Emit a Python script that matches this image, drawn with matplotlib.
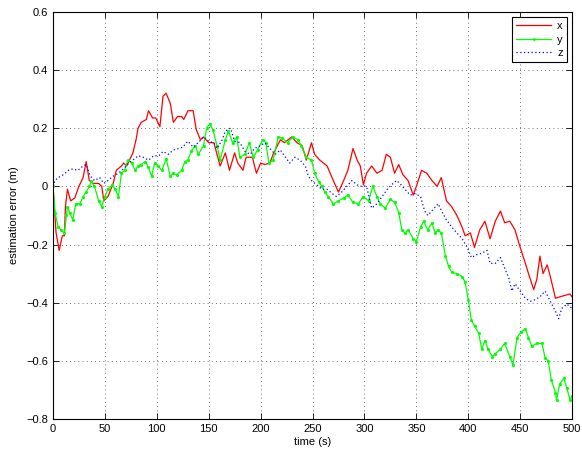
import matplotlib
matplotlib.use("Agg")
import matplotlib.pyplot as plt

# estimation error, per axis
t_x = [0, 3, 6, 9, 11, 12, 14, 17, 21, 25, 29, 32, 35, 39, 44, 47, 49, 53, 58, 61, 66, 68, 71, 75, 77, 80,
       82, 85, 90, 92, 96, 99, 103, 106, 109, 113, 116, 120, 124, 126, 130, 135, 138, 142, 145, 150, 155,
       158, 161, 166, 170, 175, 178, 183, 186, 192, 196, 200, 204, 209, 212, 219, 223, 230, 235, 240, 244,
       249, 252, 257, 264, 270, 275, 280, 284, 289, 293, 296, 299, 302, 307, 312, 317, 321, 325, 329, 333,
       337, 342, 347, 350, 355, 360, 365, 370, 374, 379, 384, 389, 394, 397, 402, 406, 411, 416, 421, 426,
       431, 435, 440, 445, 450, 455, 458, 463, 466, 469, 472, 476, 479, 484, 488, 493, 498, 500]
err_x = [0.0, -0.16, -0.22, -0.17, -0.17, -0.07, -0.01, -0.05, -0.04, 0.0, 0.03, 0.085, 0.02, 0.01, 0.01,
         0.0, -0.05, -0.035, 0.01, 0.055, 0.07, 0.08, 0.07, 0.1, 0.115, 0.16, 0.2, 0.22, 0.23, 0.26, 0.235,
         0.235, 0.205, 0.31, 0.32, 0.285, 0.22, 0.24, 0.24, 0.23, 0.26, 0.26, 0.195, 0.16, 0.17, 0.15, 0.15,
         0.11, 0.07, 0.115, 0.055, 0.115, 0.08, 0.055, 0.1, 0.1, 0.045, 0.08, 0.075, 0.08, 0.11, 0.16, 0.15,
         0.17, 0.15, 0.14, 0.09, 0.15, 0.11, 0.09, 0.07, 0.02, -0.02, 0.02, 0.055, 0.13, 0.09, 0.07, 0.005,
         0.045, 0.07, 0.045, 0.055, 0.11, 0.1, 0.045, 0.075, 0.04, 0.02, -0.03, 0.0, 0.055, 0.045, 0.02, 0.0,
         0.03, -0.05, -0.07, -0.1, -0.14, -0.17, -0.16, -0.21, -0.15, -0.12, -0.18, -0.12, -0.085, -0.125,
         -0.12, -0.15, -0.21, -0.265, -0.3, -0.355, -0.32, -0.24, -0.3, -0.27, -0.31, -0.385, -0.38, -0.375,
         -0.37, -0.38]

t_y = [0, 2, 5, 8, 11, 13, 14, 16, 19, 22, 26, 29, 32, 35, 37, 40, 44, 47, 50, 53, 57, 60, 63, 66, 69, 72,
       76, 79, 82, 85, 89, 92, 95, 98, 101, 105, 109, 113, 116, 119, 124, 127, 130, 133, 137, 140, 145, 148,
       151, 154, 158, 161, 166, 169, 173, 177, 180, 185, 189, 193, 197, 202, 205, 208, 212, 217, 221, 226,
       231, 236, 239, 244, 249, 252, 256, 259, 262, 265, 270, 275, 280, 284, 289, 294, 299, 304, 308, 312,
       315, 320, 325, 329, 333, 336, 339, 342, 347, 350, 354, 357, 361, 365, 368, 371, 374, 378, 381, 384,
       389, 394, 397, 400, 403, 406, 410, 413, 416, 419, 423, 426, 431, 435, 440, 443, 447, 451, 455, 458,
       461, 466, 471, 474, 477, 480, 484, 485, 488, 492, 495, 498, 500]
err_y = [0.0, -0.09, -0.14, -0.15, -0.16, -0.1, -0.07, -0.09, -0.115, -0.06, -0.06, -0.035, -0.02, 0.0,
         0.017, 0.0, -0.05, -0.07, -0.035, -0.01, 0.005, -0.01, -0.035, 0.045, 0.055, 0.09, 0.08, 0.055,
         0.07, 0.075, 0.085, 0.065, 0.035, 0.08, 0.07, 0.055, 0.095, 0.035, 0.045, 0.04, 0.055, 0.085, 0.09,
         0.12, 0.14, 0.11, 0.14, 0.2, 0.215, 0.195, 0.14, 0.09, 0.16, 0.19, 0.15, 0.17, 0.1, 0.11, 0.15, 0.1,
         0.125, 0.16, 0.15, 0.08, 0.09, 0.17, 0.165, 0.15, 0.17, 0.16, 0.14, 0.1, 0.09, 0.045, 0.015, 0.0,
         -0.02, -0.035, -0.06, -0.05, -0.04, -0.03, -0.055, -0.06, -0.035, -0.05, 0.0, -0.035, -0.06, -0.075,
         -0.045, -0.055, -0.09, -0.15, -0.16, -0.15, -0.18, -0.19, -0.14, -0.12, -0.15, -0.125, -0.16, -0.15,
         -0.16, -0.24, -0.275, -0.295, -0.3, -0.31, -0.33, -0.39, -0.46, -0.48, -0.505, -0.56, -0.53, -0.56,
         -0.585, -0.575, -0.56, -0.54, -0.585, -0.615, -0.52, -0.5, -0.49, -0.52, -0.55, -0.54, -0.54, -0.59,
         -0.6, -0.665, -0.71, -0.735, -0.68, -0.66, -0.695, -0.735, -0.72]

t_z = [0, 2, 5, 10, 15, 19, 24, 29, 32, 36, 40, 45, 49, 53, 58, 63, 68, 73, 77, 82, 87, 92, 97, 102, 106,
       111, 116, 121, 125, 130, 135, 140, 145, 150, 155, 158, 163, 166, 171, 175, 180, 185, 190, 194, 200,
       204, 209, 214, 219, 224, 228, 233, 238, 243, 246, 249, 254, 259, 264, 269, 273, 278, 283, 288, 293,
       297, 302, 307, 312, 317, 322, 326, 331, 334, 339, 344, 349, 354, 358, 361, 366, 371, 375, 379, 384,
       389, 394, 399, 403, 408, 413, 418, 421, 426, 431, 436, 439, 442, 445, 450, 455, 460, 464, 469, 474,
       479, 484, 487, 490, 495, 500]
err_z = [0.0, 0.02, 0.03, 0.04, 0.055, 0.06, 0.055, 0.07, 0.075, 0.035, 0.02, 0.03, 0.01, 0.02, 0.035,
         0.045, 0.06, 0.08, 0.09, 0.105, 0.1, 0.09, 0.105, 0.105, 0.12, 0.11, 0.125, 0.13, 0.135, 0.155,
         0.135, 0.15, 0.17, 0.155, 0.15, 0.13, 0.16, 0.19, 0.2, 0.155, 0.15, 0.12, 0.11, 0.13, 0.14, 0.15,
         0.13, 0.11, 0.125, 0.1, 0.08, 0.1, 0.09, 0.07, 0.035, 0.02, 0.005, -0.01, -0.01, -0.025, -0.035,
         -0.02, 0.0, 0.02, 0.005, 0.0, 0.0, -0.075, -0.06, -0.035, -0.01, 0.005, 0.02, 0.01, -0.01, -0.03,
         -0.025, -0.035, -0.085, -0.1, -0.08, -0.06, -0.09, -0.115, -0.14, -0.16, -0.18, -0.21, -0.245,
         -0.235, -0.23, -0.22, -0.265, -0.265, -0.245, -0.29, -0.315, -0.36, -0.335, -0.36, -0.385, -0.395,
         -0.39, -0.38, -0.36, -0.395, -0.43, -0.455, -0.42, -0.405, -0.42]

plt.rcParams['font.family'] = ['Liberation Sans', 'DejaVu Sans']
plt.rcParams['font.size'] = 8

fig = plt.figure(figsize=(5.82, 4.54), dpi=100)
ax = fig.add_axes([0.091, 0.077, 0.892, 0.897])

ax.plot(t_x, err_x, color='red', lw=0.9, label='x')
ax.plot(t_y, err_y, color=(0, 1, 0), lw=0.9, marker='.', markersize=2.5, label='y')
ax.plot(t_z, err_z, color='blue', lw=0.9, linestyle=(0, (1, 2)), label='z')

ax.set_xlim(0, 500)
ax.set_ylim(-0.8, 0.6)
ax.set_xticks(range(0, 501, 50))
ax.set_yticks([-0.8, -0.6, -0.4, -0.2, 0, 0.2, 0.4, 0.6])
ax.set_yticklabels(['\u22120.8', '\u22120.6', '\u22120.4', '\u22120.2', '0', '0.2', '0.4', '0.6'])
ax.tick_params(direction='in', top=True, right=True, length=4, width=0.6, labelsize=8)
ax.grid(True, linestyle=(0, (1, 4)), color='0.25', linewidth=0.6)
for s in ax.spines.values():
    s.set_linewidth(0.8)

ax.set_xlabel('time (s)', fontsize=8, labelpad=2)
ax.set_ylabel('estimation error (m)', fontsize=8, labelpad=5)

leg = ax.legend(loc='upper right', fontsize=8, fancybox=False, framealpha=1,
                edgecolor='black', handlelength=3.2, borderaxespad=0.5,
                handletextpad=0.5, labelspacing=0.3, borderpad=0.35, markerscale=0.8)
leg.get_frame().set_linewidth(0.8)

fig.savefig('out.png', dpi=100)
